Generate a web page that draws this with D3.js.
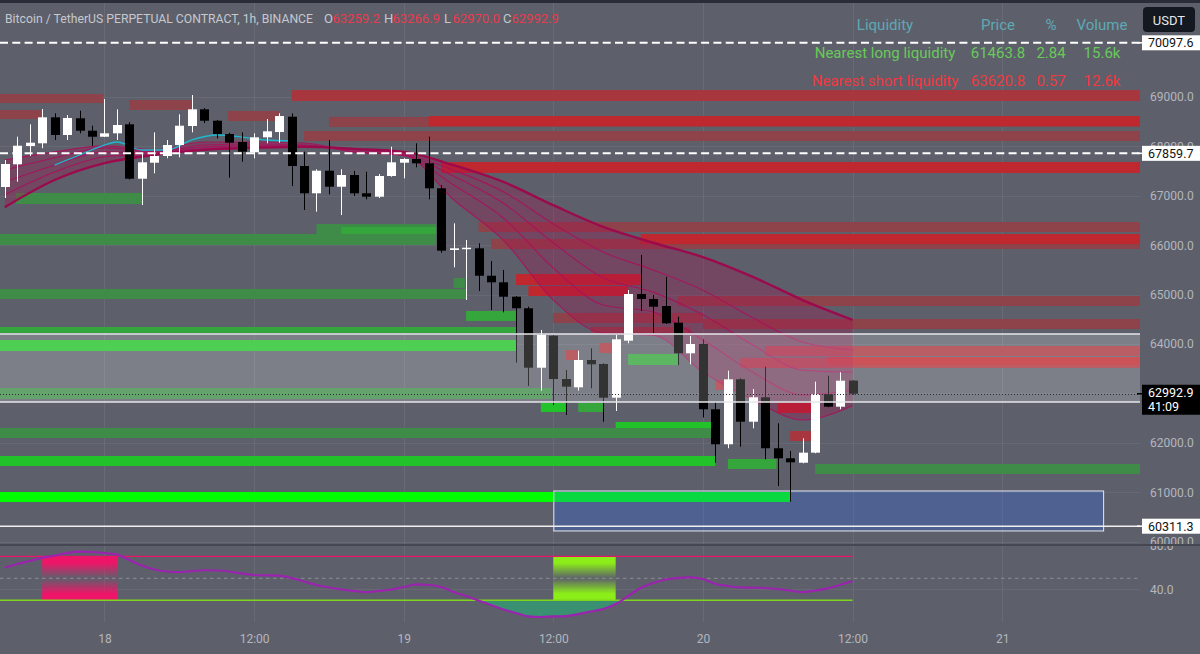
<!DOCTYPE html>
<html>
<head>
<meta charset="utf-8">
<style>
body { margin: 0; background: #5d606b; overflow: hidden; }
svg { display: block; font-family: Roboto, "Liberation Sans", sans-serif; }
</style>
</head>
<body>
<svg width="1200" height="654"></svg>
<script src="https://cdn.jsdelivr.net/npm/d3@7/dist/d3.min.js"></script>
<script>

// ---- data ----
// hourly candles, first one 2024-03-17 16:00 UTC
var firstCandle = Date.UTC(2024, 2, 17, 16);
var opens  = [67178,67638,68008,68063,68589,68231,68569,68318,68196,68265,68447,67346,67670,67806,68028,68413,68751,68520,68251,68089,67881,68184,68291,68601,67603,67051,67508,67184,67421,67051,66982,67401,67670,67745,67658,67152,65903,65923,65937,65382,65249,64957,64723,63520,64168,63291,63123,63676,63595,62913,64067,65012,64911,64769,64431,63812,64000,62678,61970,63285,62427,62921,61889,61686,61597,61800,62982,62731,63259.2];
var highs  = [67725,68196,68447,68757,68670,68636,68723,68419,68960,68751,68490,67846,68285,68130,68650,69040,68777,68534,68277,68285,68265,68555,68670,68670,67893,67536,68130,67536,67502,67488,67441,67994,67760,68063,68196,67219,66443,66105,66038,65680,65498,64970,64755,64283,64180,63474,63864,63913,63609,64182,65093,65802,64992,65362,64553,64162,64095,62832,63460,63306,63089,63540,62395,61834,62091,63237,63358,63427,63266.9];
var lows   = [66955,67285,67806,67962,68130,68130,68265,68008,68196,68130,67330,66814,67455,67759,67779,68285,68474,68164,67366,67690,67759,68063,68075,67198,66713,66678,67030,66611,66996,66929,66955,67387,67354,67577,66929,65848,65553,64891,65073,64688,64642,63621,63150,63055,62765,62563,63055,63103,62427,62644,64014,64668,64217,64405,63575,63589,62512,61597,61889,61921,62293,61666,61125,60808,61585,61787,62720,62678,62970.0];
var closes = [67644,68014,68075,68589,68231,68575,68318,68196,68265,68433,67346,67678,67806,68028,68419,68751,68520,68251,68075,67893,68184,68306,68615,67603,67051,67508,67184,67421,67051,66982,67401,67678,67745,67658,67152,65889,65937,65949,65382,65249,64957,64723,63520,64182,63291,63136,63676,63589,62913,64095,65012,64911,64755,64419,63812,64000,62678,61970,63285,62427,62921,61889,61686,61605,61800,62982,62731,63257,62992.9];

// moving-average ribbon, sampled at these candle indices (fast -> slow)
var ribbonAt = [0,4,8,12,16,20,24,28,32,36,40,44,48,52,56,60,64,68];
var ema1 = [67725,67890,68010,67930,68090,68090,68070,67890,67830,66920,66100,64890,64220,64180,63430,62870,62460,62750];
var ema2 = [67520,67770,67970,67890,68030,68050,68030,67890,67810,67220,66550,65540,64790,64650,64080,63430,62970,63070];
var ema3 = [67280,67620,67890,67870,67990,68010,68010,67930,67830,67400,66850,66050,65340,65050,64590,63980,63470,63430];
var ema4 = [67020,67480,67790,67850,67950,67990,68010,67950,67850,67520,67080,66430,65860,65500,65090,64530,64040,63880];
var ema5 = [66770,67320,67660,67830,67930,67970,67990,67950,67890,67620,67280,66810,66370,66050,65760,65360,64890,64490];
var fastAt = [4,6,8,9,11,13,15,17,19,21,23];
var fastUp = [67623,67826,68028,68089,67927,67927,68130,68231,68190,68130,68110];

// liquidity bands: [from bar, to bar, low, high, strength]
var shortBands = [
  [-1, 7.9, 68879, 69061, 1], [-1, 2.9, 68555, 68737, 1], [10, 15, 68737, 68939, 1],
  [23, 92, 68919, 69142, 2], [17.9, 22, 68514, 68717, 1], [26, 92, 68393, 68595, 1],
  [34, 92, 68413, 68615, 3], [24, 92, 68109, 68312, 1], [35, 92, 67462, 67684, 3],
  [38, 92, 66267, 66470, 1], [39, 92, 65923, 66126, 1], [51, 92, 66024, 66227, 3],
  [41, 51, 65194, 65417, 3], [42, 50, 64972, 65174, 3], [54, 92, 64769, 64972, 1],
  [44, 56, 64425, 64628, 1], [56, 92, 64304, 64506, 1], [47, 55, 64223, 64344, 1],
  [47.7, 48.7, 63818, 64020, 2], [61, 92, 63757, 63960, 2], [45, 46, 63676, 63879, 2],
  [59, 92, 63514, 63717, 2], [66, 92, 63575, 63737, 3], [57, 57.7, 63069, 63271, 2],
  [62, 64.8, 62603, 62806, 3], [63, 64.7, 62036, 62239, 2]
];
var longBands = [
  [0.9, 11, 66834, 67057, 1], [25, 34.6, 66227, 66429, 1], [27, 34.6, 66166, 66368, 2],
  [-1, 34.6, 66004, 66227, 1], [-1, 37, 64911, 65113, 1], [36, 36.9, 65134, 65336, 1],
  [37, 41, 64466, 64668, 2], [-1, 41, 64223, 64344, 2], [-1, 41, 63858, 64081, 3],
  [50, 54, 63575, 63798, 2], [-1, 43.9, 62887, 63109, 1], [43, 45, 62624, 62806, 3],
  [46, 48, 62624, 62806, 2], [49, 56.7, 62239, 62421, 3], [-1, 56.7, 62097, 62300, 1],
  [-1, 57, 61530, 61733, 3], [58, 61.9, 61470, 61672, 2], [65, 92, 61368, 61571, 1],
  [-1, 63, 60802, 61004, 4]
];
var targetBox = [44, 88.1, 60215, 61024];
var zoneTop = 64202, zoneBottom = 62826;
var dashedLevels = [70097.6, 67859.7];
var solidLevels = [60311.3];
var lastPrice = 62992.9, countdown = "41:09";

// oscillator, one value per candle
var osc = [59.8,63.0,65.7,68.7,70.7,73.0,74.2,73.9,73.0,71.6,66.6,61.6,58.0,56.2,55.7,56.6,57.3,57.1,56.2,54.4,53.0,52.7,52.4,50.1,47.1,43.9,41.6,39.8,38.5,37.3,38.5,39.8,42.1,44.4,43.9,42.1,37.5,33.9,29.8,25.7,21.6,18.5,15.3,14.8,15.3,15.7,17.5,19.8,22.1,26.6,33.9,41.2,45.7,48.9,50.3,50.9,49.4,44.8,43.0,41.8,41.5,41.2,40.3,38.9,37.3,38.9,40.9,43.9,47.5];
var overbought = [3, 9], oversold = [44, 49];
var oscUpper = 70, oscMid = 50, oscLower = 30;

var priceTicks = [60000,61000,62000,63000,64000,65000,66000,67000,68000,69000];
var oscTicks = [40, 80];

var title = "Bitcoin / TetherUS PERPETUAL CONTRACT, 1h, BINANCE";
var ohlcNames = ["O", "H", "L", "C"];
var tableHead = ["Liquidity", "Price", "%", "Volume"];
var tableLong = ["Nearest long liquidity", "61463.8", "2.84", "15.6k"];
var tableShort = ["Nearest short liquidity", "63620.8", "0.57", "12.6k"];

// ---- layout ----
var plotR = 1140, paneTop = 3, paneBot = 544, oscTop = 546, oscBot = 622;
var hour = 3600e3;
function barTime(i) { return new Date(firstCandle + i * hour); }

var svg = d3.select("svg");
var x = d3.scaleUtc()
  .domain([new Date("2024-03-17T15:37:05Z"), new Date("2024-03-21T11:03:30Z")])
  .range([0, plotR]);
var y = d3.scaleLinear().domain([59951, 70964]).range([paneBot, 0]);
var yo = d3.scaleLinear().domain([30, 80]).range([600.3, 545.3]);
var bx = function(i) { return x(barTime(i)); };

var redFill = {1: "#8e424a", 2: "#a8363f", 3: "#c0282f"};
var greenFill = {1: "#3e8c48", 2: "#35a63b", 3: "#22c32a", 4: "#00ff00"};

var defs = svg.append("defs");
function clip(id, x0, y0, w, h) {
  defs.append("clipPath").attr("id", id).append("rect")
    .attr("x", x0).attr("y", y0).attr("width", w).attr("height", h);
}
clip("cMain", 0, paneTop, plotR, paneBot - paneTop);
clip("cOsc", 0, oscTop, plotR, oscBot - oscTop);
clip("cAxMain", plotR, 0, 60, paneBot);
clip("cAxOsc", plotR, oscTop, 60, oscBot - oscTop);

function fadeGrad(id, col) {
  var gr = defs.append("linearGradient").attr("id", id)
    .attr("x1", 0).attr("y1", 0).attr("x2", 0).attr("y2", 1);
  [[0, 1], [0.15, 1], [0.47, 0.08], [0.53, 0.08], [0.85, 1], [1, 1]].forEach(function(s) {
    gr.append("stop").attr("offset", s[0]).attr("stop-color", col).attr("stop-opacity", s[1]);
  });
}
fadeGrad("gOB", "#ee1568");
fadeGrad("gOS", "#8cee18");

svg.append("rect").attr("width", 1200).attr("height", 654).attr("fill", "#5d606b");
svg.append("rect").attr("width", 1200).attr("height", 3).attr("fill", "#2a2d37");

// grid
var timeTicks = x.ticks(d3.utcHour.every(12)).filter(function(d) { var p = x(d); return p > 0 && p < plotR; });
svg.append("g").selectAll("line").data(timeTicks).join("line")
  .attr("x1", function(d) { return Math.round(x(d)) + 0.5; })
  .attr("x2", function(d) { return Math.round(x(d)) + 0.5; })
  .attr("y1", paneTop).attr("y2", oscBot)
  .attr("stroke", "rgba(255,255,255,0.07)");
svg.append("g").selectAll("line").data(priceTicks).join("line")
  .attr("x1", 0).attr("x2", plotR)
  .attr("y1", function(d) { return Math.round(y(d)) + 0.5; })
  .attr("y2", function(d) { return Math.round(y(d)) + 0.5; })
  .attr("stroke", "rgba(255,255,255,0.06)");
svg.append("g").selectAll("line").data(oscTicks).join("line")
  .attr("x1", 0).attr("x2", plotR)
  .attr("y1", function(d) { return Math.round(yo(d)) + 0.5; })
  .attr("y2", function(d) { return Math.round(yo(d)) + 0.5; })
  .attr("stroke", "rgba(255,255,255,0.06)");

var main = svg.append("g").attr("clip-path", "url(#cMain)");

// liquidity bands
function drawBands(data, fills) {
  main.append("g").selectAll("rect").data(data).join("rect")
    .attr("x", function(d) { return bx(d[0]); })
    .attr("width", function(d) { return bx(d[1]) - bx(d[0]); })
    .attr("y", function(d) { return y(d[3]); })
    .attr("height", function(d) { return y(d[2]) - y(d[3]); })
    .attr("fill", function(d) { return fills[d[4]]; });
}
drawBands(shortBands, redFill);
drawBands(longBands, greenFill);

main.append("rect")
  .attr("x", bx(targetBox[0]) + 0.5).attr("y", y(targetBox[3]))
  .attr("width", bx(targetBox[1]) - bx(targetBox[0]))
  .attr("height", y(targetBox[2]) - y(targetBox[3]))
  .attr("fill", "rgba(41,98,255,0.25)")
  .attr("stroke", "#e8e8ee").attr("stroke-width", 1);

// ribbon
var ribbon = [ema1, ema2, ema3, ema4, ema5];
var rLine = d3.line().curve(d3.curveMonotoneX)
  .x(function(d, k) { return bx(ribbonAt[k]); }).y(function(d) { return y(d); });
for (var k = 0; k < ribbon.length - 1; k++) {
  (function(a, b) {
    main.append("path")
      .attr("d", d3.area().curve(d3.curveMonotoneX)
        .x(function(d, j) { return bx(ribbonAt[j]); })
        .y0(function(d, j) { return y(a[j]); })
        .y1(function(d, j) { return y(b[j]); })(a))
      .attr("fill", "rgba(165,10,80,0.3)");
  })(ribbon[k], ribbon[k + 1]);
}
ribbon.forEach(function(s, k) {
  main.append("path").attr("d", rLine(s)).attr("fill", "none")
    .attr("stroke", k === 4 ? "#9c0a4e" : "#a8125c")
    .attr("stroke-width", k === 4 ? 2.4 : 1.1)
    .attr("stroke-opacity", k === 4 ? 1 : 0.9);
});
main.append("path")
  .attr("d", d3.line().curve(d3.curveMonotoneX)
    .x(function(d, j) { return bx(fastAt[j]); }).y(function(d) { return y(d); })(fastUp))
  .attr("fill", "none").attr("stroke", "#1fb8d0").attr("stroke-width", 1.3);

// candles
var idx = d3.range(opens.length);
var candle = main.append("g").selectAll("g").data(idx).join("g");
candle.append("line")
  .attr("x1", function(i) { return Math.round(bx(i)) + 0.5; })
  .attr("x2", function(i) { return Math.round(bx(i)) + 0.5; })
  .attr("y1", function(i) { return y(highs[i]); })
  .attr("y2", function(i) { return y(lows[i]); })
  .attr("stroke", function(i) { return closes[i] >= opens[i] ? "#ffffff" : "#000000"; });
candle.append("rect")
  .attr("x", function(i) { return Math.round(bx(i)) - 4; })
  .attr("width", 9)
  .attr("y", function(i) { return y(Math.max(opens[i], closes[i])); })
  .attr("height", function(i) { return Math.max(1.5, Math.abs(y(opens[i]) - y(closes[i]))); })
  .attr("fill", function(i) { return closes[i] >= opens[i] ? "#ffffff" : "#000000"; });

// range zone and levels
main.append("rect").attr("x", 0).attr("width", plotR)
  .attr("y", y(zoneTop)).attr("height", y(zoneBottom) - y(zoneTop))
  .attr("fill", "rgba(255,255,255,0.2)");
main.selectAll("line.zone").data([zoneTop, zoneBottom]).join("line")
  .attr("x1", 0).attr("x2", plotR)
  .attr("y1", function(d) { return y(d); }).attr("y2", function(d) { return y(d); })
  .attr("stroke", "#e6e6ea").attr("stroke-width", 1.6);
main.selectAll("line.solid").data(solidLevels).join("line")
  .attr("x1", 0).attr("x2", plotR)
  .attr("y1", function(d) { return y(d); }).attr("y2", function(d) { return y(d); })
  .attr("stroke", "#f0f0f0").attr("stroke-width", 1.5);
main.selectAll("line.dash").data(dashedLevels).join("line")
  .attr("x1", 0).attr("x2", plotR)
  .attr("y1", function(d) { return y(d); }).attr("y2", function(d) { return y(d); })
  .attr("stroke", "#ffffff").attr("stroke-width", 2).attr("stroke-dasharray", "8,4.3");
main.append("line").attr("x1", 0).attr("x2", plotR)
  .attr("y1", Math.round(y(lastPrice)) + 0.5).attr("y2", Math.round(y(lastPrice)) + 0.5)
  .attr("stroke", "#2b2d33").attr("stroke-dasharray", "1,2");

// pane separator
svg.append("rect").attr("x", 0).attr("y", paneBot).attr("width", 1200).attr("height", 2).attr("fill", "#454852");

// oscillator pane
var op = svg.append("g").attr("clip-path", "url(#cOsc)");
op.append("rect").attr("x", bx(overbought[0])).attr("width", bx(overbought[1]) - bx(overbought[0]))
  .attr("y", yo(oscUpper)).attr("height", yo(oscLower) - yo(oscUpper)).attr("fill", "url(#gOB)");
op.append("rect").attr("x", bx(oversold[0])).attr("width", bx(oversold[1]) - bx(oversold[0]))
  .attr("y", yo(oscUpper)).attr("height", yo(oscLower) - yo(oscUpper)).attr("fill", "url(#gOS)");
op.append("path")
  .attr("d", d3.area().curve(d3.curveMonotoneX)
    .x(function(d, i) { return bx(i); })
    .y0(yo(oscLower))
    .y1(function(d) { return yo(Math.min(d, oscLower)); })(osc))
  .attr("fill", "#3a9171");
op.append("line").attr("x1", 0).attr("x2", plotR).attr("y1", yo(oscMid)).attr("y2", yo(oscMid))
  .attr("stroke", "#8c8f98").attr("stroke-dasharray", "3.5,3.5");
op.append("line").attr("x1", 0).attr("x2", bx(opens.length - 1)).attr("y1", yo(oscUpper)).attr("y2", yo(oscUpper))
  .attr("stroke", "#e8156a").attr("stroke-width", 1.2);
op.append("line").attr("x1", 0).attr("x2", bx(opens.length - 1)).attr("y1", yo(oscLower)).attr("y2", yo(oscLower))
  .attr("stroke", "#80d41c").attr("stroke-width", 1.5);
op.append("path")
  .attr("d", d3.line().curve(d3.curveMonotoneX).x(function(d, i) { return bx(i); }).y(function(d) { return yo(d); })(osc))
  .attr("fill", "none").attr("stroke", "#9c22b0").attr("stroke-width", 2.2);

// axes
function styleAxis(g) {
  g.select(".domain").remove();
  g.selectAll("text").attr("fill", "#b4b6bd").attr("font-size", 12)
    .attr("font-family", "Roboto, 'Liberation Sans', sans-serif");
}
svg.append("g").attr("clip-path", "url(#cAxMain)").append("g")
  .attr("transform", "translate(" + plotR + ",0)")
  .call(d3.axisRight(y).tickValues(priceTicks).tickFormat(d3.format(".1f")).tickSize(0).tickPadding(10))
  .call(styleAxis);
svg.append("g").attr("clip-path", "url(#cAxOsc)").append("g")
  .attr("transform", "translate(" + plotR + ",0)")
  .call(d3.axisRight(yo).tickValues(oscTicks).tickFormat(d3.format(".1f")).tickSize(0).tickPadding(10))
  .call(styleAxis);
svg.append("g").attr("transform", "translate(0,625)")
  .call(d3.axisBottom(x).tickValues(timeTicks)
    .tickFormat(function(d) { return d.getUTCHours() === 0 ? String(d.getUTCDate()) : "12:00"; })
    .tickSize(0).tickPadding(9))
  .call(styleAxis);

// price tags on the right axis
function tag(val, bg, fg, extra) {
  var cy = y(val);
  var h = extra ? 30 : 15;
  var top = extra ? cy - 9 : cy - 7.5;
  svg.append("line").attr("x1", plotR - 3).attr("x2", plotR + 2).attr("y1", cy).attr("y2", cy)
    .attr("stroke", bg === "#ffffff" ? "#ffffff" : "#000").attr("stroke-width", 1.5);
  svg.append("rect").attr("x", plotR + 2).attr("y", top).attr("width", 58).attr("height", h).attr("fill", bg);
  svg.append("text").attr("x", plotR + 8).attr("y", top + 12).attr("fill", fg)
    .attr("font-size", 12.5).text(d3.format(".1f")(val));
  if (extra) {
    svg.append("text").attr("x", plotR + 8).attr("y", top + 26).attr("fill", fg)
      .attr("font-size", 12.5).text(extra);
  }
}
dashedLevels.concat(solidLevels).forEach(function(v) { tag(v, "#ffffff", "#111111"); });
tag(lastPrice, "#000000", "#ffffff", countdown);

svg.append("rect").attr("x", 1143).attr("y", 7).attr("width", 52).attr("height", 25).attr("rx", 4).attr("fill", "#141821");
svg.append("text").attr("x", 1169).attr("y", 24.5).attr("text-anchor", "middle").attr("fill", "#e8e8ea")
  .attr("font-size", 13).text("USDT");

// header legend
svg.append("text").attr("x", 5).attr("y", 23).attr("fill", "#c6c8ce").attr("font-size", 13)
  .attr("textLength", 308).attr("lengthAdjust", "spacingAndGlyphs").text(title);
var ohlcVals = [opens, highs, lows, closes].map(function(a) { return a[a.length - 1]; });
var ohlcX = [324, 384, 444, 503];
ohlcNames.forEach(function(n, k) {
  var t = svg.append("text").attr("y", 23).attr("font-size", 13);
  t.append("tspan").attr("x", ohlcX[k]).attr("fill", "#c6c8ce").text(n);
  t.append("tspan").attr("x", ohlcX[k] + 8.5).attr("fill", "#ea3a4c").text(d3.format(".1f")(ohlcVals[k]));
});

// liquidity table
var colX = [885, 998, 1051, 1102];
function row(cells, yy, col) {
  cells.forEach(function(c, k) {
    svg.append("text").attr("x", colX[k]).attr("y", yy).attr("text-anchor", "middle")
      .attr("fill", col).attr("font-size", 15).text(c);
  });
}
row(tableHead, 30, "#5ea9b4");
row(tableLong, 58, "#68c95a");
row(tableShort, 86, "#f0383e");

</script>
</body>
</html>
